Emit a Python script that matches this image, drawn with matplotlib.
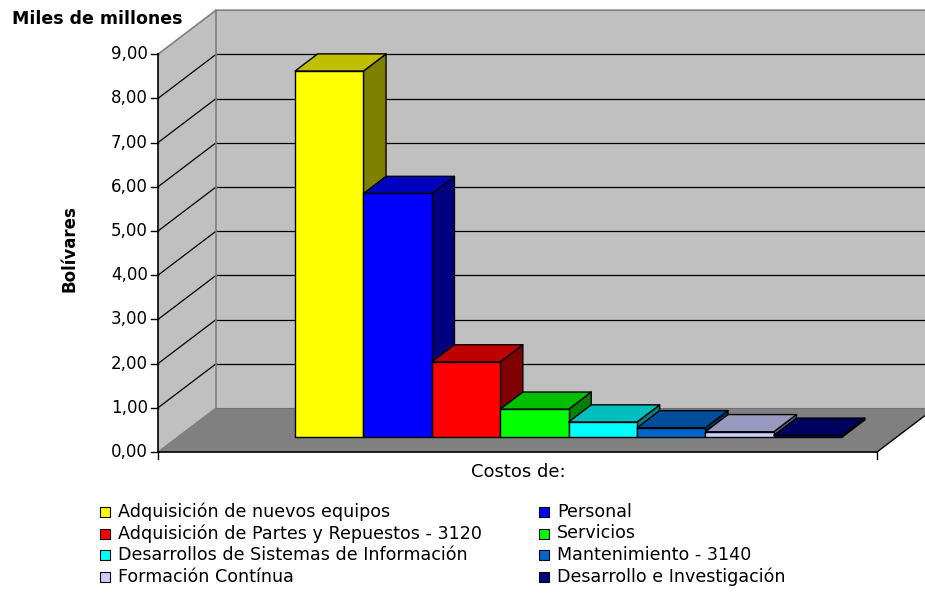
import numpy as np
import matplotlib
matplotlib.use("Agg")
import matplotlib.pyplot as plt
from matplotlib.patches import Polygon, Rectangle

# costos por rubro, en miles de millones de Bs.
rubros = ["Adquisición de nuevos equipos", "Personal",
          "Adquisición de Partes y Repuestos - 3120", "Servicios",
          "Desarrollos de Sistemas de Información", "Mantenimiento - 3140",
          "Formación Contínua", "Desarrollo e Investigación"]
costos = [8.28, 5.51, 1.70, 0.63, 0.34, 0.21, 0.12, 0.04]
colores = ["#FFFF00", "#0000FF", "#FF0000", "#00FF00",
           "#00FFFF", "#0066CC", "#CCCCFF", "#000080"]
yticks = [0, 1, 2, 3, 4, 5, 6, 7, 8, 9]

W_PX, H_PX = 925, 593
PX, PY = 68.4, 44.2          # pixels per category unit / per value unit
ORX, ORY = 158, 452          # front origin of the plot box

DX, DY = 58 / PX, 44 / PY    # full depth offset of the box
W = 719 / PX                 # floor width
X0 = 1.715                   # first bar's left edge
D0, D1 = 0.34, 0.73          # bar depth, front and back
YMAX = 9


def shade(c, f):
    r, g, b = matplotlib.colors.to_rgb(c)
    return (r * f, g * f, b * f)


fig = plt.figure(figsize=(W_PX / 100, H_PX / 100), dpi=100)
ax = fig.add_axes([0, 0, 1, 1])
ax.set_xlim(-ORX / PX, (W_PX - ORX) / PX)
ax.set_ylim(-(H_PX - ORY) / PY, ORY / PY)
ax.axis("off")

wall = "#C0C0C0"
edge = "#808080"

# walls and floor
ax.add_patch(Polygon([(DX, DY), (W + DX, DY), (W + DX, YMAX + DY), (DX, YMAX + DY)],
                     closed=True, fc=wall, ec="none", zorder=1))
ax.add_patch(Polygon([(0, 0), (DX, DY), (DX, YMAX + DY), (0, YMAX)],
                     closed=True, fc=wall, ec="none", zorder=1))
ax.add_patch(Polygon([(0, 0), (W, 0), (W + DX, DY), (DX, DY)],
                     closed=True, fc="#808080", ec="none", zorder=1))

for v in yticks[1:-1]:
    ax.plot([DX, W + DX], [v + DY, v + DY], color="black", lw=0.9, zorder=2)
    ax.plot([0, DX], [v, v + DY], color="black", lw=0.9, zorder=2)

ax.plot([0, DX, W + DX], [YMAX, YMAX + DY, YMAX + DY], color=edge, lw=1.2, zorder=2)
ax.plot([DX, DX], [DY, YMAX + DY], color=edge, lw=1.2, zorder=2)
ax.plot([0, DX], [0, DY], color=edge, lw=1.0, zorder=2)
ax.plot([DX, W + DX], [DY, DY], color="#707070", lw=0.8, zorder=2)

# axes lines
tick_x = 7 / PX
tick_y = 7 / PY
ax.plot([0, 0], [0, YMAX], color="black", lw=1.2, zorder=5)
ax.plot([0, W], [0, 0], color="black", lw=1.2, zorder=5)
ax.plot([W, W + DX], [0, DY], color="black", lw=1.0, zorder=5)
ax.plot([W, W], [0, -tick_y], color="black", lw=1.0, zorder=5)
ax.plot([0, 0], [0, -tick_y], color="black", lw=1.0, zorder=5)
for v in yticks:
    ax.plot([-tick_x, 0], [v, v], color="black", lw=1.0, zorder=5)
    ax.text(-10 / PX, v, f"{v:.2f}".replace(".", ","), ha="right",
            va="center", fontsize=12)

# bars: side, top, front
for i, (v, c) in enumerate(zip(costos, colores)):
    xl = X0 + i
    xr = xl + 1
    f = [(xl + D0 * DX, D0 * DY), (xr + D0 * DX, D0 * DY),
         (xr + D0 * DX, v + D0 * DY), (xl + D0 * DX, v + D0 * DY)]
    b = [(x + (D1 - D0) * DX, y + (D1 - D0) * DY) for x, y in f]
    side = [f[1], b[1], b[2], f[2]]
    top = [f[3], f[2], b[2], b[3]]
    z = 3 + i * 0.1
    ax.add_patch(Polygon(side, closed=True, fc=shade(c, 0.5), ec="black",
                         lw=1.0, joinstyle="round", zorder=z))
    ax.add_patch(Polygon(top, closed=True, fc=shade(c, 0.75), ec="black",
                         lw=1.0, joinstyle="round", zorder=z + 0.01))
    ax.add_patch(Polygon(f, closed=True, fc=c, ec="black",
                         lw=1.0, joinstyle="round", zorder=z + 0.02))

# titles
fig.text(12 / W_PX, 1 - 24 / H_PX, "Miles de millones", fontsize=12.5,
         fontweight="bold", ha="left", va="baseline")
fig.text(70 / W_PX, 1 - 249 / H_PX, "Bolívares", fontsize=12,
         fontweight="bold", rotation=90, ha="center", va="center")
fig.text(518 / W_PX, 1 - 472 / H_PX, "Costos de:", fontsize=13,
         ha="center", va="center")

# legend, two columns
row_y = [512, 533.5, 555, 577]
col_x = [100, 539]
for k, (name, c) in enumerate(zip(rubros, colores)):
    cx = col_x[k % 2]
    cy = row_y[k // 2]
    fig.patches.append(Rectangle((cx / W_PX, 1 - (cy + 5) / H_PX),
                                 10 / W_PX, 10 / H_PX, fc=c, ec="black",
                                 lw=0.8, transform=fig.transFigure,
                                 figure=fig))
    fig.text((cx + 18) / W_PX, 1 - cy / H_PX, name, fontsize=12.6,
             ha="left", va="center")

fig.savefig("out.png", dpi=100)
